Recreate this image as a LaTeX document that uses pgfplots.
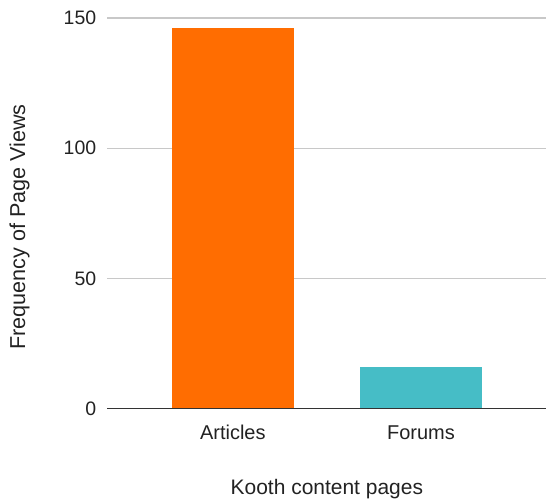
\documentclass[border=0pt]{standalone}
\usepackage{pgfplots}
\pgfplotsset{compat=1.18}
\usepackage{fontspec}
\setmainfont{Liberation Sans}

\definecolor{articlesorange}{HTML}{FF6D01}
\definecolor{forumsteal}{HTML}{46BDC6}
\definecolor{gridgrey}{HTML}{C8C8C8}
\definecolor{baselinegrey}{HTML}{333333}
\definecolor{labeltext}{HTML}{222222}

\begin{document}
\begin{tikzpicture}
% fixed canvas
\path (0,0) rectangle (547bp,502bp);
\begin{axis}[
  at={(107.5bp,92.7bp)}, anchor=south west,
  scale only axis,
  width=439.5bp, height=391.3bp,
  ymin=0, ymax=150,
  xmin=-0.667, xmax=1.667,
  ytick={0,50,100,150},
  xtick={0,1},
  xticklabels={Articles, Forums},
  ymajorgrids,
  grid style={gridgrey, line width=1.2bp},
  axis line style={draw=none},
  major tick length=0pt,
  tick style={draw=none},
  /pgf/number format/assume math mode=true,
  yticklabel style={font=\fontsize{19.5bp}{22bp}\selectfont, color=labeltext, inner sep=0pt, anchor=east, xshift=-11bp},
  xticklabel style={font=\fontsize{20bp}{23bp}\selectfont, color=labeltext, inner sep=0pt, anchor=base, yshift=-31bp},
  xlabel={Kooth content pages},
  ylabel={Frequency of Page Views},
  every axis x label/.style={at={(rel axis cs:0.5,0)}, yshift=-85.7bp, anchor=base, inner sep=0pt, font=\fontsize{21bp}{24bp}\selectfont, color=labeltext},
  every axis y label/.style={at={(rel axis cs:0,0.465)}, xshift=-88bp, rotate=90, anchor=center, inner sep=0pt, font=\fontsize{21.6bp}{24bp}\selectfont, color=labeltext},
  ybar, bar width=122bp, bar shift=0pt,
  clip=false,
]
\addplot[fill=articlesorange, draw=none] coordinates {(0,146)};
\addplot[fill=forumsteal, draw=none] coordinates {(1,16)};
\draw[baselinegrey, line width=1.3bp] (rel axis cs:0,0) -- (rel axis cs:1,0);
\end{axis}
\end{tikzpicture}
\end{document}
